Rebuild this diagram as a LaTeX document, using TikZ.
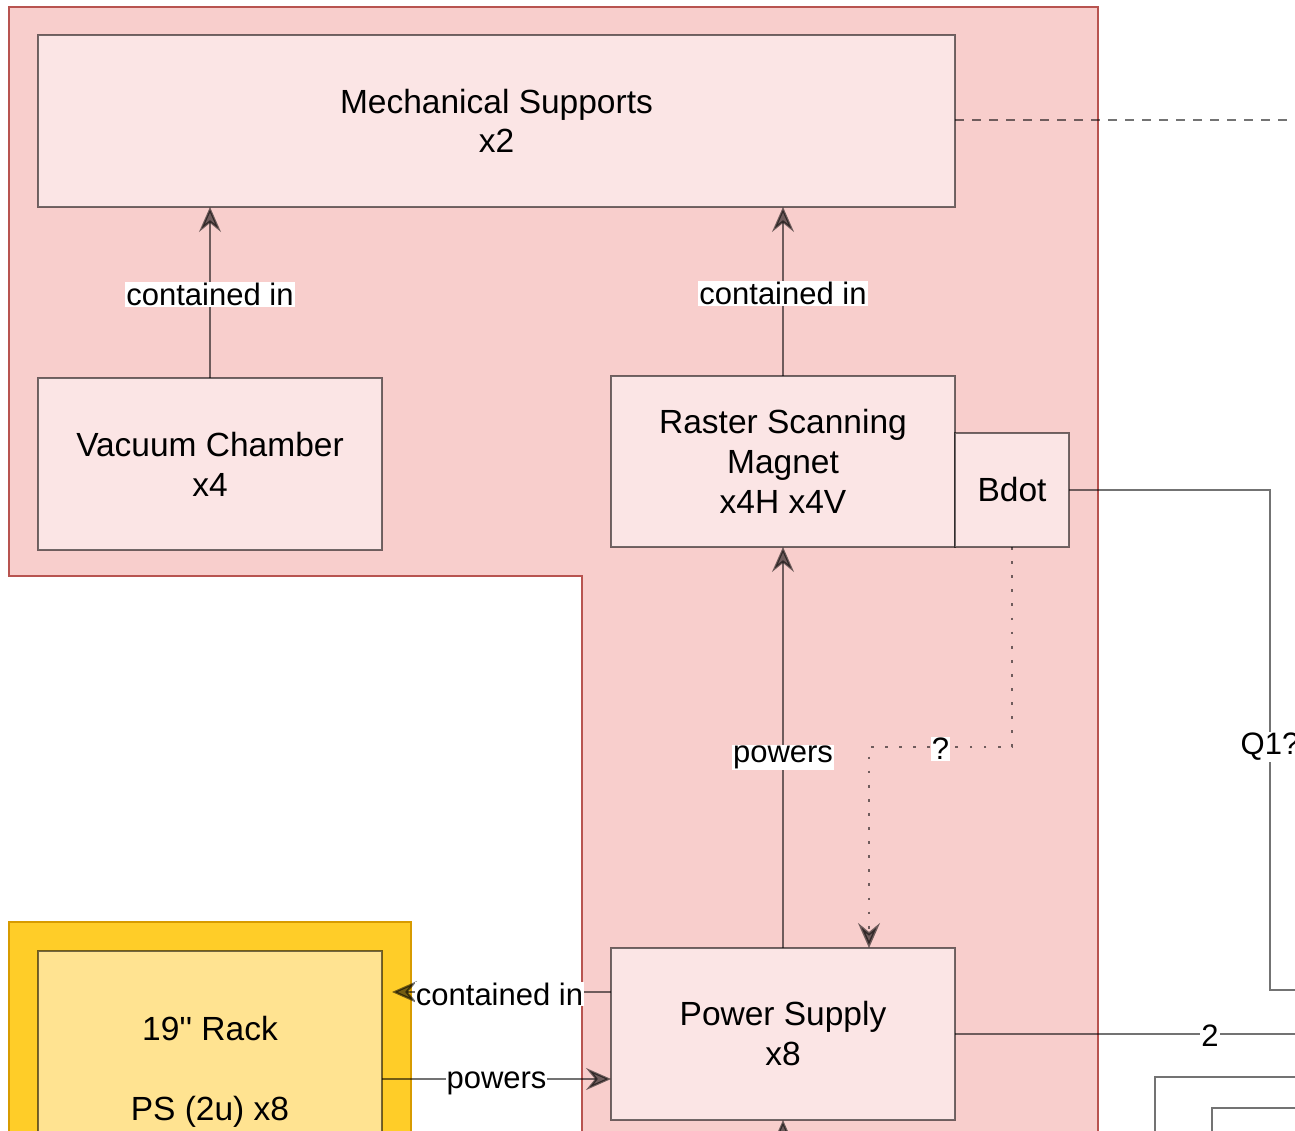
\documentclass[tikz,border=0pt]{standalone}
\usepackage{fontspec}
\setmainfont{Liberation Sans}[Ligatures=TeXOff]
\usetikzlibrary{arrows.meta,calc}

\definecolor{redfill}{HTML}{F8CECC}
\definecolor{redline}{HTML}{B85450}
\definecolor{boxfill}{HTML}{FBE5E5}
\definecolor{yelfill}{HTML}{FFCD28}
\definecolor{yelline}{HTML}{D79B00}
\definecolor{rackfill}{HTML}{FFE391}

\tikzset{
  box/.style={rectangle, draw=black, draw opacity=0.55, line width=2.2pt,
    fill=boxfill, align=center, inner sep=0pt, outer sep=0pt,
    font=\fontsize{33.5}{40}\selectfont},
  conn/.style={draw=black, opacity=0.55, line width=2.2pt,
    -{Stealth[length=25pt, width=22pt, inset=9pt]}},
  plainconn/.style={draw=black, opacity=0.55, line width=2.2pt},
  dashconn/.style={plainconn, dash pattern=on 9pt off 8pt},
  dotconn/.style={conn, line width=2.8pt, dash pattern=on 2.8pt off 11.3pt},
  lbl/.style={fill=white, opacity=1, text opacity=1, inner sep=1pt,
    yshift=-2pt, font=\fontsize{31}{37}\selectfont},
}

\begin{document}
\begin{tikzpicture}[x=1pt, y=-1pt]
\useasboundingbox (0,0) rectangle (1295,1131);
\clip (0,0) rectangle (1295,1131);

% containers
\filldraw[fill=redfill, draw=redline, line width=2.5pt]
  (9,7) -- (1098,7) -- (1098,1200) -- (582,1200) -- (582,576) -- (9,576) -- cycle;
\filldraw[fill=yelfill, draw=yelline, line width=2pt]
  (9,922) rectangle (411,1200);

% blocks
\node[box, minimum width=917pt, minimum height=172pt] (ms) at (496.5,121)
  {\raisebox{-1pt}{Mechanical Supports}\\x2};
\node[box, minimum width=344pt, minimum height=172pt] (vc) at (210,464)
  {Vacuum Chamber\\x4};
\node[box, minimum width=344pt, minimum height=171pt] (rsm) at (783,461.5)
  {Raster Scanning\\Magnet\\x4H x4V};
\node[box, minimum width=114pt, minimum height=114pt] (bdot) at (1012,490)
  {Bdot};
\node[box, minimum width=344pt, minimum height=172pt] (ps) at (783,1034)
  {Power Supply\\x8};
\node[box, fill=rackfill, minimum width=344pt, minimum height=242pt] (rack) at (210,1072)
  {19'' Rack\\[40pt]PS (2u) x8};

% connectors
\draw[conn] (vc.north) -- node[lbl] {contained in} (vc.north |- ms.south);
\draw[conn] (rsm.north) -- node[lbl] {contained in} (rsm.north |- ms.south);
\draw[conn] (ps.north) -- node[lbl, pos=0.48] {powers} (ps.north |- rsm.south);

\coordinate (psq) at ($(ps.north)+(86,0)$);
\draw[dotconn] (bdot.south) -- ++(0,200) -| node[lbl, pos=0.25] {?} (psq);

\coordinate (qend) at (1330,990);
\draw[plainconn] (bdot.east) -- ++(201,0) -- node[lbl, pos=0.51] {Q1?} ++(0,500) -- (qend);

\coordinate (twoend) at (1465,1034);
\draw[plainconn] (ps.east) -- node[lbl] {2} (twoend);

\coordinate (msend) at (1330,120);
\draw[dashconn] (ms.east) ++(0,-1) -- (msend);

\coordinate (pa) at ($(ps.west)+(0,-42)$);
\draw[conn] (pa) -- node[lbl, xshift=-2pt] {contained in} ($(rack.east |- pa)+(10,0)$);

\coordinate (pb) at ($(ps.west)+(0,45)$);
\draw[conn] (rack.east |- pb) -- node[lbl, yshift=-2pt] {powers} (pb);

\coordinate (psin) at ($(ps.south)+(0,100)$);
\draw[conn] (psin) -- (ps.south);

% further links leaving to the right
\coordinate (la) at (1330,1077);
\coordinate (lb) at (1330,1108);
\draw[plainconn] (1155,1200) -- (1155,1077) -- (la);
\draw[plainconn] (1212,1200) -- (1212,1108) -- (lb);
\end{tikzpicture}
\end{document}
